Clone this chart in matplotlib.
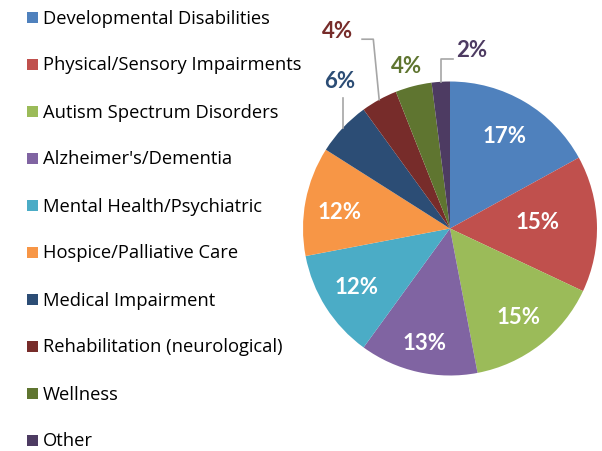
import numpy as np
import matplotlib.pyplot as plt
from matplotlib.patches import Rectangle

categorias = [
    "Developmental Disabilities",
    "Physical/Sensory Impairments",
    "Autism Spectrum Disorders",
    "Alzheimer's/Dementia",
    "Mental Health/Psychiatric",
    "Hospice/Palliative Care",
    "Medical Impairment",
    "Rehabilitation (neurological)",
    "Wellness",
    "Other",
]
percentuais = [17, 15, 15, 13, 12, 12, 6, 4, 4, 2]
cores = ["#4F81BD", "#C0504D", "#9BBB59", "#8064A2", "#4BACC6",
         "#F79646", "#2C4D75", "#772C2A", "#5F7530", "#4D3B62"]

# label placement (radius as fraction of pie radius, angle shift in degrees)
raio_rotulo = [0.73, 0.60, 0.765, 0.80, 0.75, 0.76, 1.25, 1.54, 1.14, 1.22]
desvio_ang = [0, 2.4, 0, 0, 0, 2.8, -9.9, 0.9, 0.5, -10.7]
dentro = [True, True, True, True, True, True, False, False, False, False]

plt.rcParams["font.family"] = ["Lato", "DejaVu Sans"]

fig = plt.figure(figsize=(6.02, 4.51), dpi=100)

# pie axes: centre (450, 228.5) px, radius 147 px
cx, cy, r = 450, 228.5, 147
ax = fig.add_axes([(cx - r) / 602, (451 - cy - r) / 451, 2 * r / 602, 2 * r / 451])

wedges, _ = ax.pie(percentuais, colors=cores, startangle=90, counterclock=False,
                   radius=1, frame=True)
ax.set_xlim(-1, 1)
ax.set_ylim(-1, 1)
ax.axis("off")

cinza = "#A6A6A6"
for i, (w, p) in enumerate(zip(wedges, percentuais)):
    meio = (w.theta1 + w.theta2) / 2
    ang = np.deg2rad(meio + desvio_ang[i])
    x, y = raio_rotulo[i] * np.cos(ang), raio_rotulo[i] * np.sin(ang)
    cor_txt = "white" if dentro[i] else cores[i]
    ax.text(x, y, f"{p}%", ha="center", va="center", color=cor_txt,
            fontsize=16, fontweight="bold", clip_on=False)
    borda = (np.cos(np.deg2rad(meio)), np.sin(np.deg2rad(meio)))
    if i == 6:
        ax.plot([borda[0], borda[0]], [borda[1], y - 0.11], color=cinza, lw=1.2, clip_on=False)
    elif i == 7:
        cotovelo = (borda[0] - 0.04, y - 0.05)
        ax.plot([borda[0], cotovelo[0], x + 0.165], [borda[1], cotovelo[1], cotovelo[1]],
                color=cinza, lw=1.2, clip_on=False)
    elif i == 9:
        cotovelo = (borda[0], y - 0.06)
        ax.plot([borda[0], cotovelo[0], x - 0.13], [borda[1], cotovelo[1], cotovelo[1]],
                color=cinza, lw=1.2, clip_on=False)

# legend drawn in pixel space
leg = fig.add_axes([0, 0, 1, 1], zorder=-1)
leg.set_xlim(0, 602)
leg.set_ylim(451, 0)
leg.axis("off")
for i, (nome, cor) in enumerate(zip(categorias, cores)):
    yc = 17 + i * 47
    leg.add_patch(Rectangle((27, yc - 5.5), 11, 11, color=cor, lw=0))
    leg.text(43, yc + 1.5, nome, ha="left", va="center", fontsize=13.2, color="#000000",
             family=["Open Sans", "DejaVu Sans"])

fig.savefig("out.png", dpi=100)
plt.close()
